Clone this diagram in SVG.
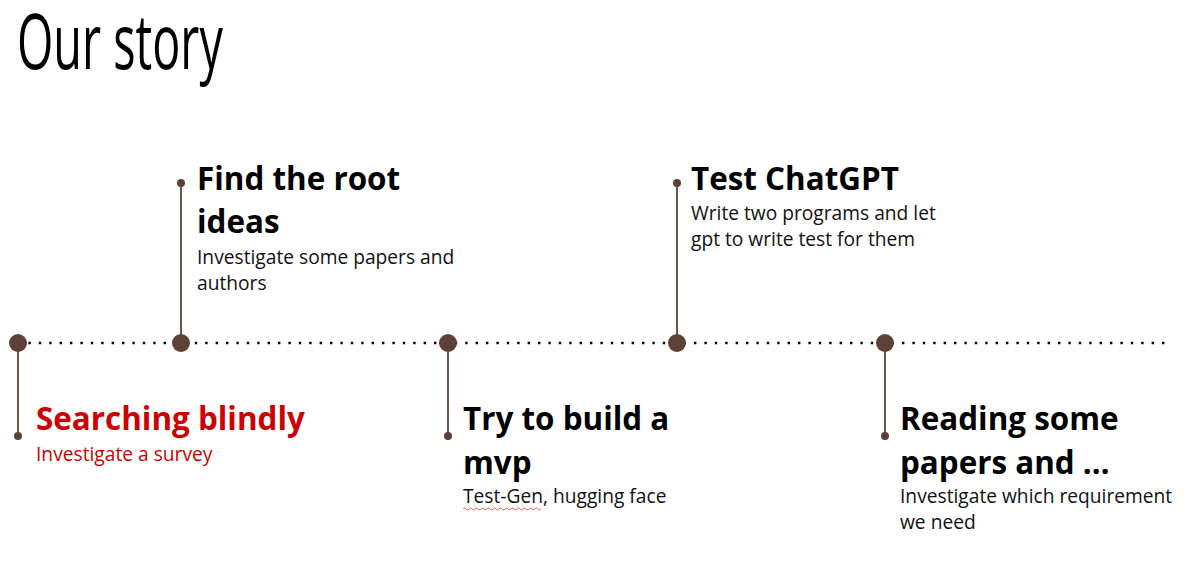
<svg xmlns="http://www.w3.org/2000/svg" width="1188" height="566" viewBox="0 0 1188 566">
<style>
.h{font-family:"Open Sans","Liberation Sans",sans-serif;font-weight:700;font-size:31.4px;fill:#000}
.d{font-family:"Open Sans","Liberation Sans",sans-serif;font-weight:400;font-size:19.2px;fill:#111}
.red{fill:#cc0000}
.stem{stroke:#6d5550;stroke-width:2}
.big{fill:#5e4038}
.small{fill:#5e4038}
</style>
<rect width="1188" height="566" fill="#fff"/>
<text transform="translate(17,69) scale(0.615,1)" font-family="Open Sans, Liberation Sans, sans-serif" font-weight="400" font-size="76" fill="#000">Our story</text>
<g id="connectors">
<line x1="18" y1="343" x2="1166" y2="343" stroke="#000" stroke-width="2.4" stroke-dasharray="2.4 8"/>
<line class="stem" x1="18" y1="343" x2="18" y2="436"/>
<line class="stem" x1="181" y1="343" x2="181" y2="183"/>
<line class="stem" x1="448" y1="343" x2="448" y2="436"/>
<line class="stem" x1="677" y1="343" x2="677" y2="183"/>
<line class="stem" x1="885" y1="343" x2="885" y2="436"/>
</g>
<g id="n1">
<circle class="big" cx="18" cy="343" r="9"/>
<circle class="small" cx="18" cy="436" r="4"/>
<text class="h red" x="36" y="430">Searching blindly</text>
<text class="d red" x="36" y="461">Investigate a survey</text>
</g>
<g id="n2">
<circle class="big" cx="181" cy="343" r="9"/>
<circle class="small" cx="181" cy="183" r="4"/>
<text class="h" x="197" y="190">Find the root</text>
<text class="h" x="197" y="233">ideas</text>
<text class="d" x="197" y="264">Investigate some papers and</text>
<text class="d" x="197" y="290">authors</text>
</g>
<g id="n3">
<circle class="big" cx="448" cy="343" r="9"/>
<circle class="small" cx="448" cy="436" r="4"/>
<text class="h" x="463" y="430">Try to build a</text>
<text class="h" x="463" y="474">mvp</text>
<text class="d" x="463" y="503">Test-Gen, hugging face</text>
<path d="M463,509 q1.5,-2 3,0 t3,0 t3,0 t3,0 t3,0 t3,0 t3,0 t3,0 t3,0 t3,0 t3,0 t3,0 t3,0 t3,0 t3,0 t3,0 t3,0 t3,0 t3,0 t3,0 t3,0 t3,0 t3,0 t3,0 t3,0 t3,0" fill="none" stroke="#d9534f" stroke-width="0.9"/>
</g>
<g id="n4">
<circle class="big" cx="677" cy="343" r="9"/>
<circle class="small" cx="677" cy="183" r="4"/>
<text class="h" x="691" y="190">Test ChatGPT</text>
<text class="d" x="691" y="220">Write two programs and let</text>
<text class="d" x="691" y="246">gpt to write test for them</text>
</g>
<g id="n5">
<circle class="big" cx="885" cy="343" r="9"/>
<circle class="small" cx="885" cy="436" r="4"/>
<text class="h" x="900" y="430">Reading some</text>
<text class="h" x="900" y="474">papers and …</text>
<text class="d" x="900" y="503">Investigate which requirement</text>
<text class="d" x="900" y="529">we need</text>
</g>
</svg>
